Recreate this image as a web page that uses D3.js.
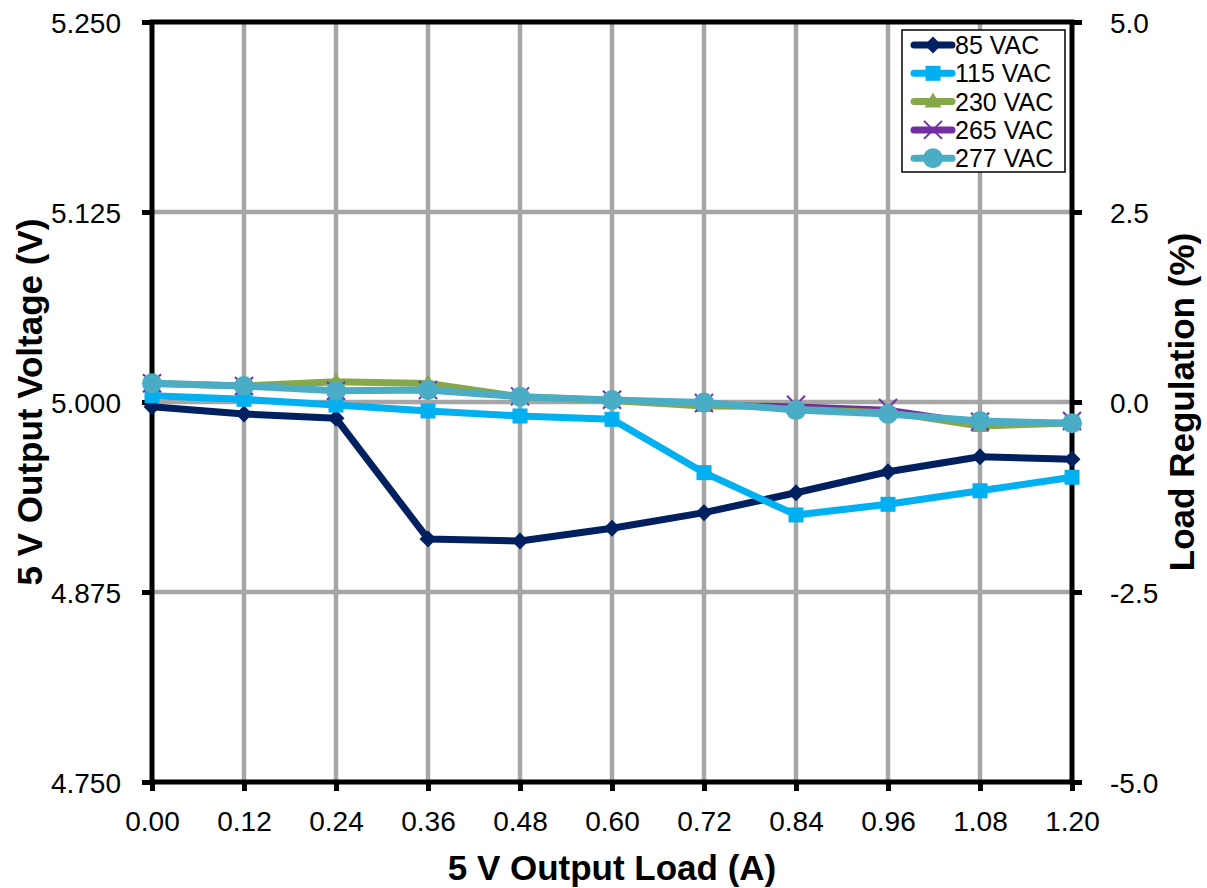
<!DOCTYPE html>
<html lang="en">
	<head>
		<meta charset="utf-8">
		<title>5 V Load Regulation</title>
		<style>
			html, body {
				margin: 0;
				background: #fff;
			}
			svg {
				display: block;
				font-family: 'Liberation Sans', Arial, sans-serif;
			}
		</style>
	</head>
	<body>
		<script src="https://cdn.jsdelivr.net/npm/d3@7/dist/d3.min.js"></script>
		<script>
		// load points (A)
		const loads = [0.00, 0.12, 0.24, 0.36, 0.48, 0.60, 0.72, 0.84, 0.96, 1.08, 1.20]

		// output voltage per input line voltage
		const v85  = [4.9969, 4.9921, 4.9893, 4.9099, 4.9086, 4.9169, 4.9272, 4.9403, 4.9541, 4.9640, 4.9623]
		const v115 = [5.0041, 5.0018, 4.9980, 4.9941, 4.9908, 4.9886, 4.9535, 4.9257, 4.9327, 4.9416, 4.9505]
		const v230 = [5.0122, 5.0105, 5.0134, 5.0122, 5.0035, 5.0010, 4.9974, 4.9970, 4.9935, 4.9842, 4.9862]
		const v265 = [5.0123, 5.0105, 5.0074, 5.0079, 5.0037, 5.0015, 4.9993, 4.9982, 4.9960, 4.9870, 4.9875]
		const v277 = [5.0123, 5.0105, 5.0074, 5.0079, 5.0035, 5.0013, 4.9996, 4.9947, 4.9921, 4.9875, 4.9860]

		const seriesNames = ['85 VAC', '115 VAC', '230 VAC', '265 VAC', '277 VAC']
		const seriesValues = [v85, v115, v230, v265, v277]

		const xTicks = [0.00, 0.12, 0.24, 0.36, 0.48, 0.60, 0.72, 0.84, 0.96, 1.08, 1.20]
		const yTicks = [4.750, 4.875, 5.000, 5.125, 5.250]
		const rTicks = [-5.0, -2.5, 0.0, 2.5, 5.0]

		const W = 1207, H = 888
		const pLeft = 152, pRight = 1072, pTop = 22, pBottom = 782
		const gridColor = '#a6a6a6'

		const styles = [
			{ color: '#002060', width: 7, marker: 'diamond' },
			{ color: '#00b0f0', width: 7, marker: 'square' },
			{ color: '#86a74a', width: 7, marker: 'triangle' },
			{ color: '#7030a0', width: 2.5, marker: 'x' },
			{ color: '#4bacc6', width: 7, marker: 'circle' }
		]

		const x = d3.scaleLinear().domain([0, 1.2]).range([pLeft, pRight])
		const y = d3.scaleLinear().domain([4.75, 5.25]).range([pBottom, pTop])
		const yR = d3.scaleLinear().domain([-5, 5]).range([pBottom, pTop])

		const svg = d3.select('body').append('svg')
			.attr('width', W)
			.attr('height', H)

		// grid
		const grid = svg.append('g')
		grid.selectAll('line.v')
			.data(xTicks.slice(1, -1))
			.join('line')
			.attr('class', 'v')
			.attr('x1', d => x(d)).attr('x2', d => x(d))
			.attr('y1', pTop).attr('y2', pBottom)
			.attr('stroke', gridColor).attr('stroke-width', 4.5)
		grid.selectAll('line.h')
			.data(yTicks.slice(1, -1))
			.join('line')
			.attr('class', 'h')
			.attr('x1', pLeft).attr('x2', pRight)
			.attr('y1', d => y(d)).attr('y2', d => y(d))
			.attr('stroke', gridColor).attr('stroke-width', 4.5)

		// axes
		const styleAxis = g => {
			g.select('.domain').remove()
			g.selectAll('.tick line').attr('stroke', '#000').attr('stroke-width', 5)
			g.selectAll('.tick text')
				.attr('fill', '#000')
				.attr('font-size', 28)
				.attr('font-family', "'Liberation Sans', Arial, sans-serif")
		}

		svg.append('g')
			.attr('transform', `translate(0,${pBottom})`)
			.call(d3.axisBottom(x).tickValues(xTicks).tickFormat(d3.format('.2f')).tickSize(9).tickPadding(20))
			.call(styleAxis)

		svg.append('g')
			.attr('transform', `translate(${pLeft},0)`)
			.call(d3.axisLeft(y).tickValues(yTicks).tickFormat(d3.format('.3f')).tickSize(10).tickPadding(21))
			.call(styleAxis)
			.selectAll('.tick text').attr('dy', '0.36em')

		const fmtR = d => d3.format('.1f')(d).replace('\u2212', '-')
		svg.append('g')
			.attr('transform', `translate(${pRight},0)`)
			.call(d3.axisRight(yR).tickValues(rTicks).tickFormat(fmtR).tickSize(10).tickPadding(28))
			.call(styleAxis)
			.selectAll('.tick text').attr('dy', '0.36em')

		// plot frame
		svg.append('rect')
			.attr('x', pLeft).attr('y', pTop)
			.attr('width', pRight - pLeft).attr('height', pBottom - pTop)
			.attr('fill', 'none')
			.attr('stroke', '#000').attr('stroke-width', 5)

		// axis titles
		svg.append('text')
			.attr('x', (pLeft + pRight) / 2).attr('y', 880)
			.attr('text-anchor', 'middle')
			.attr('font-size', 35).attr('font-weight', 'bold')
			.text('5 V Output Load (A)')

		svg.append('text')
			.attr('transform', `translate(29,${(pTop + pBottom) / 2}) rotate(-90)`)
			.attr('text-anchor', 'middle')
			.attr('dominant-baseline', 'central')
			.attr('font-size', 35).attr('font-weight', 'bold')
			.text('5 V Output Voltage (V)')

		svg.append('text')
			.attr('transform', `translate(1181,${(pTop + pBottom) / 2}) rotate(-90)`)
			.attr('text-anchor', 'middle')
			.attr('dominant-baseline', 'central')
			.attr('font-size', 35).attr('font-weight', 'bold')
			.text('Load Regulation (%)')

		// markers
		const drawMarker = (g, type, color) => {
			if (type === 'diamond') {
				g.append('path').attr('d', 'M0,-8.5 L8.5,0 L0,8.5 L-8.5,0 Z').attr('fill', color)
			} else if (type === 'square') {
				g.append('rect').attr('x', -7.5).attr('y', -7.5).attr('width', 15).attr('height', 15).attr('fill', color)
			} else if (type === 'triangle') {
				g.append('path').attr('d', 'M0,-9 L8.5,6 L-8.5,6 Z').attr('fill', color)
			} else if (type === 'x') {
				g.append('path').attr('d', 'M-9,-9 L9,9 M9,-9 L-9,9').attr('stroke', color).attr('stroke-width', 2)
			} else {
				g.append('circle').attr('r', 10).attr('fill', color)
			}
		}

		const line = d3.line()
			.x((d, i) => x(loads[i]))
			.y(d => y(d))

		const plot = svg.append('g')
		seriesValues.forEach((vals, k) => {
			const s = styles[k]
			const g = plot.append('g')
			g.append('path')
				.attr('d', line(vals))
				.attr('fill', 'none')
				.attr('stroke', s.color)
				.attr('stroke-width', s.width)
				.attr('stroke-linejoin', 'round')
				.attr('stroke-linecap', 'round')
			vals.forEach((v, i) => {
				const m = g.append('g').attr('transform', `translate(${x(loads[i])},${y(v)})`)
				drawMarker(m, s.marker, s.color)
			})
		})

		// legend
		const legend = svg.append('g').attr('transform', 'translate(902,30)')
		legend.append('rect')
			.attr('width', 163).attr('height', 142)
			.attr('fill', '#fff')
			.attr('stroke', '#000').attr('stroke-width', 1.5)
		seriesNames.forEach((name, k) => {
			const s = styles[k]
			const cy = 15 + k * 28.3
			const row = legend.append('g').attr('transform', `translate(0,${cy})`)
			row.append('line')
				.attr('x1', 12).attr('x2', 50)
				.attr('stroke', s.color).attr('stroke-width', 7)
				.attr('stroke-linecap', 'round')
			drawMarker(row.append('g').attr('transform', 'translate(31,0)'), s.marker, s.color)
			row.append('text')
				.attr('x', 53).attr('dy', '0.36em')
				.attr('font-size', 25)
				.text(name)
		})
		</script>
	</body>
</html>
